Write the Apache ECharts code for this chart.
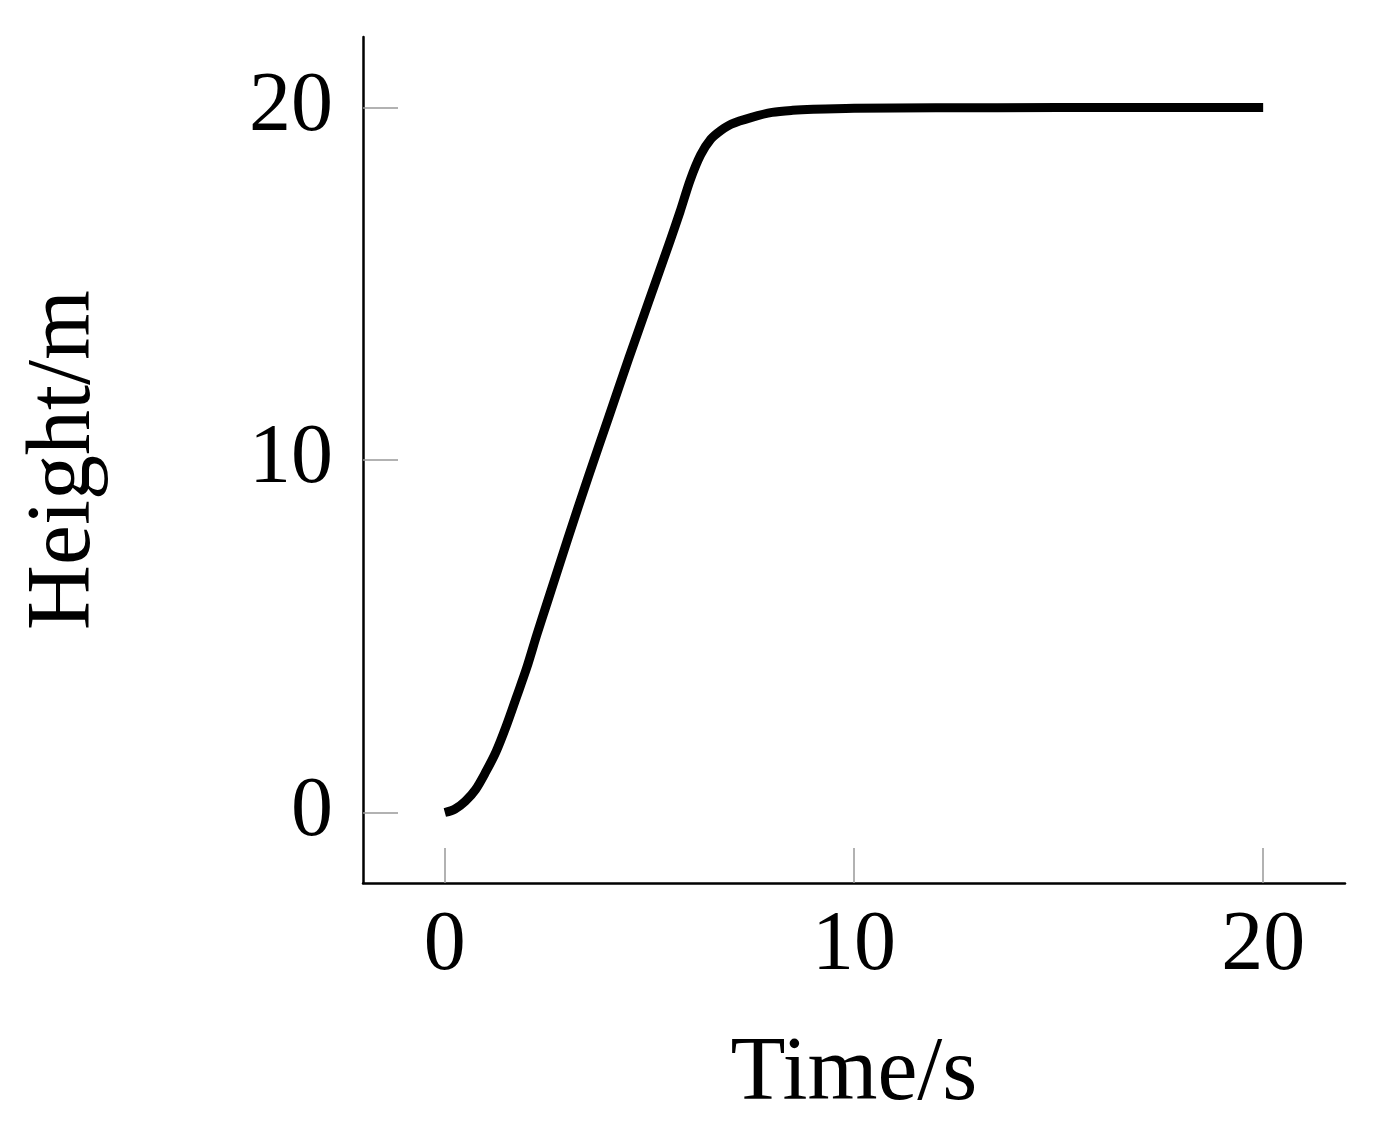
<!DOCTYPE html>
<html>
<head>
<meta charset="utf-8">
<title>Height vs time</title>
<script src="https://cdn.jsdelivr.net/npm/echarts@6/dist/echarts.min.js"></script>
<style>
  html, body { margin: 0; padding: 0; background: #fff; }
  #chart { width: 1392px; height: 1143px; }
</style>
</head>
<body>
<div id="chart"></div>
<script>
// time in s, height in m
const timeData = [0, 0.25, 0.5, 0.75, 1, 1.25, 1.5, 1.75, 2, 2.25, 2.5, 3, 3.5, 4, 4.5, 5, 5.5, 5.75, 6, 6.25, 6.5, 6.75, 7, 7.5, 8, 8.5, 9, 10, 12, 15, 20]
const heightData = [0, 0.1, 0.32, 0.65, 1.15, 1.72, 2.45, 3.27, 4.1, 5.05, 5.95, 7.75, 9.5, 11.2, 12.9, 14.55, 16.2, 17.05, 17.95, 18.65, 19.1, 19.35, 19.53, 19.72, 19.86, 19.92, 19.95, 19.98, 19.99, 20, 20]
const xTicks = [0, 10, 20]
const yTicks = [0, 10, 20]

const serif = "'Liberation Serif', 'DejaVu Serif', serif"

let chart = echarts.init(document.getElementById('chart'))

const option = {
  animation: false,
  backgroundColor: '#fff',
  grid: {
    left: 363,
    right: 47,
    top: 37,
    bottom: 260,
    containLabel: false,
    outerBoundsMode: 'none'
  },
  xAxis: {
    type: 'value',
    min: -2,
    max: 22,
    name: 'Time/s',
    nameLocation: 'middle',
    nameGap: 147,
    nameTextStyle: { fontFamily: serif, fontSize: 90, color: '#000' },
    axisLine: { show: true, onZero: false, lineStyle: { color: '#000', width: 2.5 } },
    axisTick: {
      show: true,
      inside: true,
      length: 35,
      customValues: xTicks,
      lineStyle: { color: '#999', width: 1.5 }
    },
    axisLabel: {
      customValues: xTicks,
      margin: 22,
      fontFamily: serif,
      fontSize: 84,
      color: '#000'
    },
    splitLine: { show: false }
  },
  yAxis: {
    type: 'value',
    min: -2,
    max: 22,
    name: 'Height/m',
    nameLocation: 'middle',
    nameGap: 253,
    nameTextStyle: { fontFamily: serif, fontSize: 90, color: '#000' },
    axisLine: { show: true, onZero: false, lineStyle: { color: '#000', width: 2.5 } },
    axisTick: {
      show: true,
      inside: true,
      length: 35,
      customValues: yTicks,
      lineStyle: { color: '#999', width: 1.5 }
    },
    axisLabel: {
      customValues: yTicks,
      margin: 30,
      fontFamily: serif,
      fontSize: 84,
      color: '#000'
    },
    splitLine: { show: false }
  },
  series: [
    {
      type: 'line',
      data: timeData.map((t, i) => [t, heightData[i]]),
      smooth: 0.3,
      showSymbol: false,
      lineStyle: { color: '#000', width: 9, cap: 'butt', join: 'round' }
    }
  ]
}

chart.setOption(option)
</script>
</body>
</html>
